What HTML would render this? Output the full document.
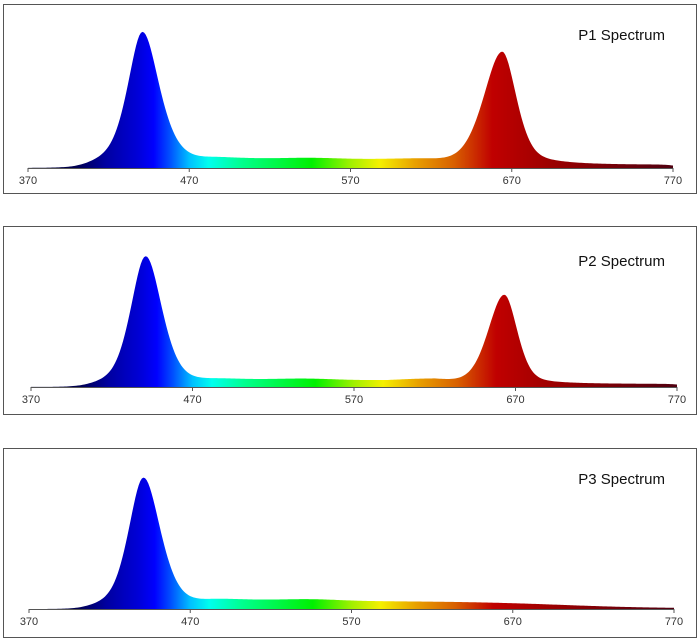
<!DOCTYPE html>
<html><head><meta charset="utf-8"><style>
html,body{margin:0;padding:0;background:#fff;width:700px;height:640px;overflow:hidden}
</style></head><body>
<svg id="s" width="700" height="640" xmlns="http://www.w3.org/2000/svg" style="position:absolute;left:0;top:0">
<defs>
<linearGradient id="spec" x1="0" y1="0" x2="1" y2="0">
<stop offset="0" stop-color="#000030"/>
<stop offset="0.075" stop-color="#000050"/>
<stop offset="0.12" stop-color="#0000a0"/>
<stop offset="0.17" stop-color="#0000d8"/>
<stop offset="0.195" stop-color="#0000ff"/>
<stop offset="0.22" stop-color="#0050ff"/>
<stop offset="0.25" stop-color="#00c0ff"/>
<stop offset="0.28" stop-color="#00ffee"/>
<stop offset="0.33" stop-color="#00ff90"/>
<stop offset="0.44" stop-color="#00f000"/>
<stop offset="0.5" stop-color="#a0f000"/>
<stop offset="0.545" stop-color="#f5f000"/>
<stop offset="0.6" stop-color="#e8a000"/>
<stop offset="0.66" stop-color="#d86000"/>
<stop offset="0.72" stop-color="#c00000"/>
<stop offset="0.8" stop-color="#a00000"/>
<stop offset="1" stop-color="#500010"/>
</linearGradient>
</defs>
</svg>
<script>
var s=document.getElementById('s');var NS='http://www.w3.org/2000/svg';
function el(t,a,txt){var e=document.createElementNS(NS,t);for(var k in a)e.setAttribute(k,a[k]);if(txt)e.textContent=txt;s.appendChild(e);return e;}
function pk(x,c,h,wl,wr,eta){var w=x<c?wl:wr;var d=(x-c)/w;return h*(eta/(1+d*d)+(1-eta)*Math.exp(-0.693*d*d));}
function sig(x,c,w){return 1/(1+Math.exp(-(x-c)/w));}
function lcut(x,c){return sig(x,c,5);}
var panels=[
{top:4,bot:193,base:168,x0:28,x1:673,title:'P1 Spectrum',ty:40,f:function(x){
 return pk(x,441,134,11,12.5,0.55)*lcut(x,405)+2*sig(x,400,8)*(1-sig(x,470,5))+7*sig(x,478,6)*(1-sig(x,625,8))+1.5*Math.exp(-Math.pow((x-545)/25,2))
 +pk(x,664,114,14,10.5,0.45)*(1-sig(x,720,8)*0.3)+3*sig(x,660,5)*(1-sig(x,772,3));}},
{top:226,bot:414,base:387,x0:31,x1:677,title:'P2 Spectrum',ty:266,f:function(x){
 return pk(x,441,130,11,12,0.45)*lcut(x,405)+0.8*sig(x,395,6)+5*sig(x,478,6)*(1-sig(x,625,8))+1.5*Math.exp(-Math.pow((x-540)/25,2))
 +pk(x,663,90,12,9.5,0.35)+2*sig(x,660,5)*(1-sig(x,772,3))+Math.max(0,2*(1-Math.abs(x-620)/30));}},
{top:448,bot:637,base:609,x0:29,x1:674,title:'P3 Spectrum',ty:484,f:function(x){
 return pk(x,441,131,11,12.5,0.45)*lcut(x,405)+0.5*sig(x,395,6)+7*sig(x,478,6)*(1-sig(x,700,30))+1.5*Math.exp(-Math.pow((x-545)/25,2));}}
];
panels.forEach(function(p){
 el('rect',{x:3.5,y:p.top+0.5,width:693,height:p.bot-p.top,fill:'#fff',stroke:'#555','stroke-width':1});
 var sc=(p.x1-p.x0)/400;var d='M'+p.x0+','+p.base;
 for(var nm=370;nm<=770;nm+=1){d+=' L'+(p.x0+(nm-370)*sc).toFixed(2)+','+(p.base-p.f(nm)).toFixed(2);}
 d+=' L'+p.x1+','+p.base+' Z';
 el('path',{d:d,fill:'url(#spec)'});
 el('line',{x1:p.x0,y1:p.base+0.5,x2:p.x1,y2:p.base+0.5,stroke:'#555','stroke-width':1});
 for(var i=0;i<5;i++){var x=p.x0+i*100*sc;
  el('line',{x1:x,y1:p.base,x2:x,y2:p.base+4,stroke:'#555','stroke-width':1});
  el('text',{x:x,y:p.base+16,'text-anchor':'middle','font-family':'Liberation Sans, sans-serif','font-size':'11',fill:'#333'},String(370+i*100));}
 el('text',{x:665,y:p.ty,'text-anchor':'end','font-family':'Liberation Sans, sans-serif','font-size':'15','font-weight':'500',fill:'#111'},p.title);
});
</script>
</body></html>
